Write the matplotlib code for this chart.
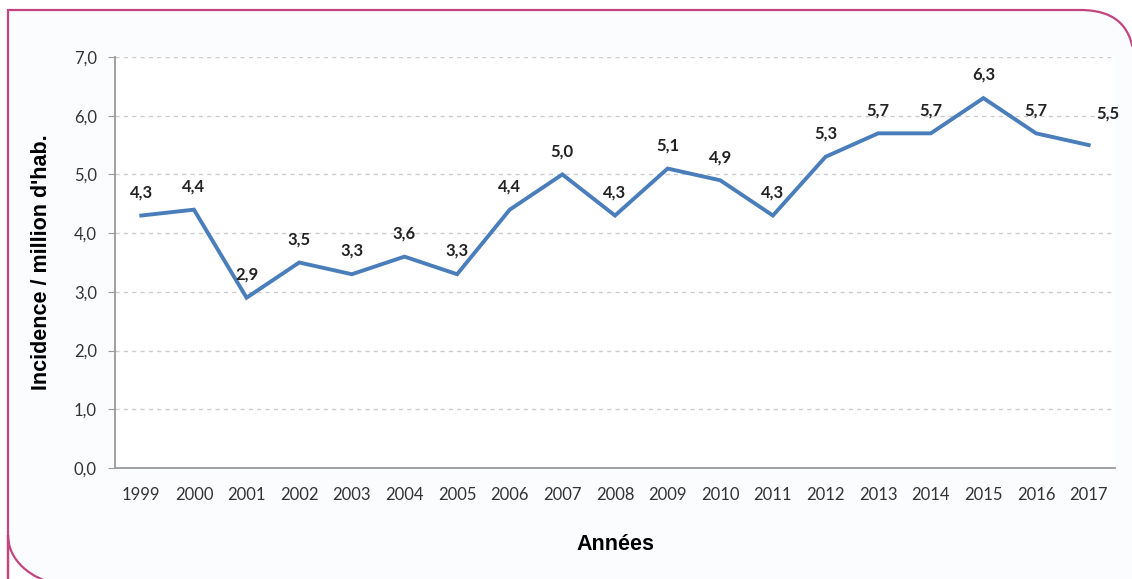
import matplotlib.pyplot as plt
import matplotlib.patches as mpatches
from matplotlib.path import Path
from matplotlib.transforms import Affine2D

years = ["1999", "2000", "2001", "2002", "2003", "2004", "2005", "2006", "2007",
         "2008", "2009", "2010", "2011", "2012", "2013", "2014", "2015", "2016", "2017"]
incidence = [4.3, 4.4, 2.9, 3.5, 3.3, 3.6, 3.3, 4.4, 5.0,
             4.3, 5.1, 4.9, 4.3, 5.3, 5.7, 5.7, 6.3, 5.7, 5.5]
y_ticks = [0, 1, 2, 3, 4, 5, 6, 7]

W, H = 1132, 579
fig = plt.figure(figsize=(W / 100, H / 100), dpi=100)
fig.patch.set_facecolor("white")

# pixel coords (origin top-left) -> figure coords
px = Affine2D().scale(1 / W, -1 / H).translate(0, 1) + fig.transFigure

# frame with rounded top-right and bottom-left corners
verts = [
    (8, 590), (8, 535),
    (8, 560), (30, 579), (60, 585),
    (60, 590), (1140, 590), (1140, 60),
    (1132, 45),
    (1125, 15), (1100, 10), (1080, 10),
    (8, 10), (8, 590),
]
codes = [Path.MOVETO, Path.LINETO,
         Path.CURVE4, Path.CURVE4, Path.CURVE4,
         Path.LINETO, Path.LINETO, Path.LINETO,
         Path.LINETO,
         Path.CURVE4, Path.CURVE4, Path.CURVE4,
         Path.LINETO, Path.CLOSEPOLY]
frame = mpatches.PathPatch(Path(verts, codes), transform=px, facecolor="#fafcfe",
                           edgecolor="#c2457f", linewidth=1.6, zorder=-5)
fig.patches.append(frame)

ax = fig.add_axes([115 / W, 1 - 468 / H, 1000 / W, (468 - 57) / H])
ax.set_zorder(1)
ax.set_facecolor("white")

x = list(range(len(years)))
ax.plot(x, incidence, color="#4a7ebb", linewidth=2.8, solid_joinstyle="miter")

for i, v in zip(x, incidence):
    lbl = f"{v:.1f}".replace(".", ",")
    if i == len(x) - 1:
        off = (14, 17)
    else:
        off = (0, 11)
    ax.annotate(lbl, (i, v), xytext=off, textcoords="offset points",
                ha="center", va="bottom", fontsize=12, fontweight="bold",
                family="Lato", color="#222222")

ax.set_xlim(-0.5, len(years) - 0.5)
ax.set_ylim(0, 7)
ax.set_xticks(x)
ax.set_xticklabels(years, family="Lato", fontsize=12, color="#333333")
ax.set_yticks(y_ticks)
ax.set_yticklabels([f"{t:.1f}".replace(".", ",") for t in y_ticks],
                   family="Lato", fontsize=12, color="#333333")
ax.tick_params(axis="x", length=0, pad=14)
ax.tick_params(axis="y", length=5, color="#999999", pad=8)

ax.grid(axis="y", linestyle=(0, (3, 3)), color="#cccccc", linewidth=1)
ax.set_axisbelow(True)
for s in ["top", "right"]:
    ax.spines[s].set_visible(False)
for s in ["left", "bottom"]:
    ax.spines[s].set_color("#999999")
    ax.spines[s].set_linewidth(1.3)

ax.set_xlabel("Années", family="Liberation Sans", fontsize=15.5, fontweight="bold",
              labelpad=22)
ax.set_ylabel("Incidence / million d'hab.", family="Liberation Sans", fontsize=15.5,
              fontweight="bold", labelpad=16)

fig.savefig("out.png", dpi=100, facecolor=fig.get_facecolor())
